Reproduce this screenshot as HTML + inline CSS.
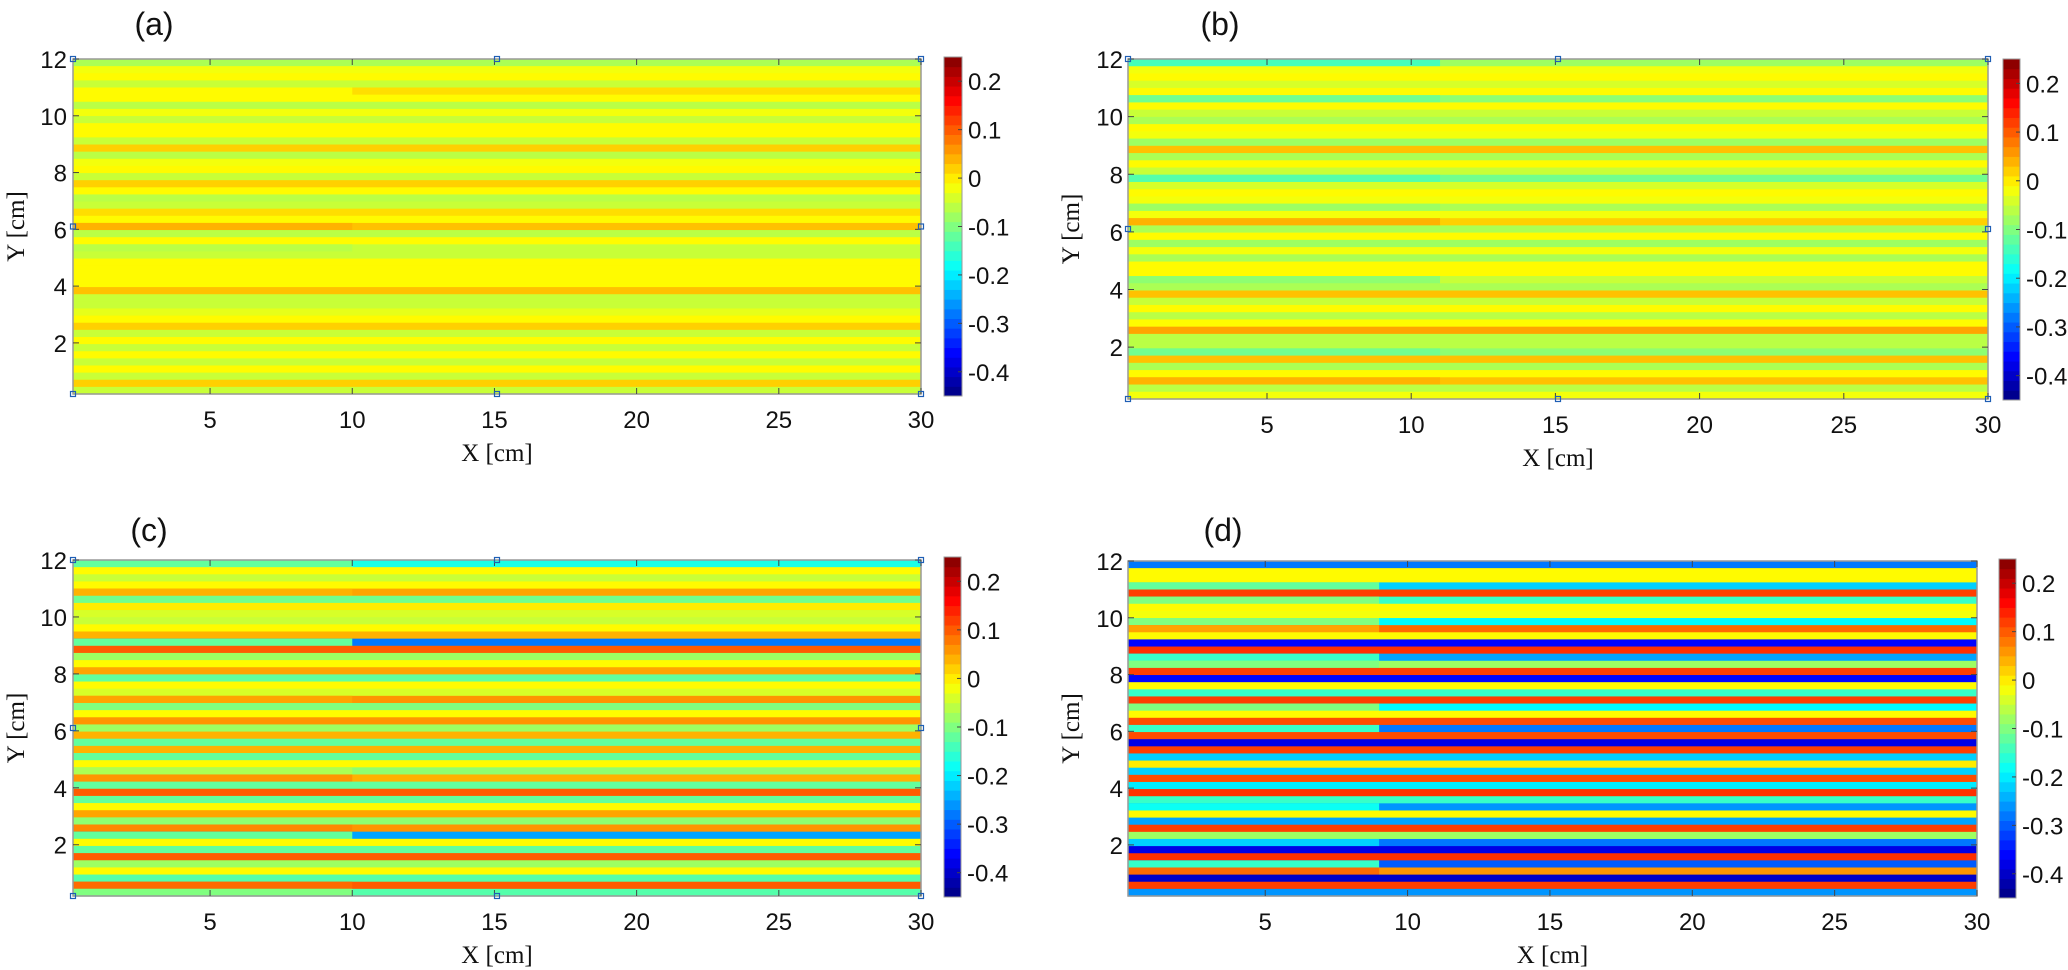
<!DOCTYPE html>
<html><head><meta charset="utf-8">
<style>
html,body{margin:0;padding:0;background:#fff;width:2068px;height:970px;overflow:hidden}
svg{display:block}
.tk{font-family:"Liberation Sans",sans-serif;font-size:24px;fill:#111}
.pl{font-family:"Liberation Sans",sans-serif;font-size:32px;fill:#111}
.al{font-family:"Liberation Serif",serif;font-size:25px;fill:#111}
</style></head>
<body>
<svg id="fig" width="2068" height="970" viewBox="0 0 2068 970" xmlns="http://www.w3.org/2000/svg"></svg>
<script>
// ---- data: stripe values per 0.25cm band, from y=12 (top) down to y=0.2 ----
const xTicks = [5, 10, 15, 20, 25, 30];
const yTicks = [2, 4, 6, 8, 10, 12];
const cbTicks = [0.2, 0.1, 0, -0.1, -0.2, -0.3, -0.4];
const cbTickLabels = ["0.2", "0.1", "0", "-0.1", "-0.2", "-0.3", "-0.4"];
const panelLetters = ["(a)", "(b)", "(c)", "(d)"];

const rowsA = [-0.07,-0.02,-0.01,-0.05,0.01,-0.01,-0.06,-0.02,-0.05,-0.01,-0.01,-0.05,0.02,-0.06,-0.02,-0.01,-0.05,0.02,-0.01,-0.06,-0.05,0.01,-0.01,0.03,-0.06,-0.01,-0.05,-0.05,-0.01,-0.01,-0.01,-0.01,0.03,-0.05,-0.05,-0.03,-0.01,0.02,-0.05,-0.01,-0.05,-0.01,-0.05,-0.01,-0.05,0.02,-0.05];
const rowsB = [-0.08,-0.02,-0.01,-0.04,-0.01,-0.09,-0.01,-0.05,-0.07,-0.01,-0.02,-0.08,0.03,-0.07,-0.01,-0.05,-0.11,-0.04,-0.01,-0.02,-0.07,-0.02,0.02,-0.07,-0.01,-0.08,-0.02,-0.07,-0.01,-0.01,-0.05,-0.07,0.03,-0.05,-0.01,-0.06,-0.01,0.05,-0.06,-0.06,-0.09,0.03,-0.07,-0.01,0.03,-0.06,-0.02];
const rowsC = [-0.17,-0.01,-0.05,-0.01,0.05,-0.11,0.0,-0.04,-0.05,-0.01,0.04,-0.28,0.1,-0.08,-0.01,0.05,-0.12,-0.01,-0.04,0.06,-0.1,-0.01,0.06,-0.08,0.04,-0.12,0.04,-0.12,-0.01,-0.09,0.04,-0.12,0.1,-0.12,-0.01,0.05,-0.09,0.06,-0.25,-0.01,-0.12,0.1,-0.08,-0.01,-0.13,0.1,-0.13];
const rowsD = [-0.28,-0.01,-0.01,-0.22,0.12,-0.15,-0.01,-0.02,-0.19,0.09,-0.01,-0.36,0.13,-0.25,-0.08,0.12,-0.36,-0.01,-0.15,0.12,-0.19,-0.01,0.11,-0.28,0.11,-0.38,0.12,-0.22,0.0,-0.22,0.11,-0.2,0.13,-0.15,-0.26,-0.01,-0.25,0.12,-0.08,-0.28,-0.38,0.13,-0.3,0.06,-0.4,0.12,-0.26];

// left-region deviations: [bandIndex, value] applying for x < split
const leftA = [[23,0.04],[4,-0.01],[26,-0.06]];
const leftB = [[0,-0.14],[5,-0.11],[16,-0.13],[20,-0.08],[22,0.04],[30,-0.09],[40,-0.11],[44,0.04]];
const leftC = [[0,-0.12],[4,0.04],[10,0.04],[11,-0.12],[19,0.05],[29,-0.07],[30,0.06],[37,0.07],[38,-0.12],[45,0.09],[46,-0.1]];
const leftD = [[3,-0.12],[5,-0.1],[8,-0.1],[9,0.05],[13,-0.15],[14,-0.1],[20,-0.1],[23,-0.15],[34,-0.18],[39,-0.22],[42,-0.15],[43,0.09]];
const splitX = [10, 11, 10, 9];

const allRows = [rowsA, rowsB, rowsC, rowsD];
const allLeft = [leftA, leftB, leftC, leftD];

// ---- layout (pixels) ----
const boxes = [
  {x0:73, x1:921, y0:59, y1:394, cb:{x0:944,x1:962,y0:57,y1:396}, lab:[154,24], ytx:67, ylx:16},
  {x0:1128, x1:1988, y0:59, y1:399, cb:{x0:2003,x1:2020,y0:59,y1:400}, lab:[1220,24], ytx:1123, ylx:1071},
  {x0:73, x1:921, y0:560, y1:896, cb:{x0:944,x1:961,y0:557,y1:897}, lab:[149,530], ytx:67, ylx:16},
  {x0:1128, x1:1977, y0:561, y1:896, cb:{x0:1999,x1:2016,y0:559,y1:898}, lab:[1223,530], ytx:1123, ylx:1071}
];
const XMIN = 0.18, XMAX = 30, YMIN = 0.2, YMAX = 12, VMIN = -0.45, VMAX = 0.25;

function jet(v){
  let t = (v - VMIN) / (VMAX - VMIN); t = Math.max(0, Math.min(1, t));
  const f = (a)=>Math.max(0, Math.min(1, a));
  const r = f(1.5 - Math.abs(4*t - 3)), g = f(1.5 - Math.abs(4*t - 2)), b = f(1.5 - Math.abs(4*t - 1));
  return `rgb(${Math.round(r*255)},${Math.round(g*255)},${Math.round(b*255)})`;
}
const NS = "http://www.w3.org/2000/svg";
const svg = document.getElementById('fig');
function mk(tag, attrs, parent){
  const e = document.createElementNS(NS, tag);
  for (const k in attrs) e.setAttribute(k, attrs[k]);
  (parent || svg).appendChild(e);
  return e;
}

boxes.forEach((B, p) => {
  const g = mk('g', {});
  
  
  const sx = (x) => B.x0 + (x - XMIN) / (XMAX - XMIN) * (B.x1 - B.x0);
  const sy = (y) => B.y1 - (y - YMIN) / (YMAX - YMIN) * (B.y1 - B.y0);
  const rows = allRows[p];
  const n = rows.length;
  const bandH = (YMAX - YMIN) / n;
  const leftMap = {};
  allLeft[p].forEach(([i, v]) => { leftMap[i] = v; });
  rows.forEach((v, i) => {
    const yTop = YMAX - i * bandH, yBot = YMAX - (i + 1) * bandH;
    const py0 = sy(yTop), py1 = sy(yBot);
    const r = mk('rect', {x: B.x0, y: py0, width: B.x1 - B.x0, height: py1 - py0 + 0.6, fill: jet(v)}, g);
    
    
    if (leftMap[i] !== undefined) {
      const xs = sx(splitX[p]);
      const r2 = mk('rect', {x: B.x0, y: py0, width: xs - B.x0, height: py1 - py0 + 0.6, fill: jet(leftMap[i])}, g);
      
      
    }
  });
  const fr = mk('rect', {x: B.x0, y: B.y0, width: B.x1 - B.x0, height: B.y1 - B.y0, fill: 'none', stroke: '#999', 'stroke-width': 1.5}, g);
  
  
  xTicks.forEach(t => {
    const x = sx(t);
    mk('line', {x1: x, x2: x, y1: B.y1, y2: B.y1 - 6, stroke: '#444', 'stroke-width': 1}, g);
    mk('line', {x1: x, x2: x, y1: B.y0, y2: B.y0 + 6, stroke: '#444', 'stroke-width': 1}, g);
    const tx = mk('text', {x: x, y: B.y1 + 34, 'text-anchor': 'middle', class: 'tk'}, g);
    tx.textContent = t;
    
    
  });
  yTicks.forEach(t => {
    const y = sy(t);
    mk('line', {x1: B.x0, x2: B.x0 + 6, y1: y, y2: y, stroke: '#444', 'stroke-width': 1}, g);
    mk('line', {x1: B.x1, x2: B.x1 - 6, y1: y, y2: y, stroke: '#444', 'stroke-width': 1}, g);
    const tx = mk('text', {x: B.ytx, y: y + 9, 'text-anchor': 'end', class: 'tk'}, g);
    tx.textContent = t;
    
    
  });
  if (p !== 3) {
    const mx = (B.x0 + B.x1) / 2, my = (B.y0 + B.y1) / 2;
    [[B.x0,B.y0],[mx,B.y0],[B.x1,B.y0],[B.x0,my],[B.x1,my],[B.x0,B.y1],[mx,B.y1],[B.x1,B.y1]].forEach(([x,y]) => {
      const m = mk('rect', {x: x - 2.5, y: y - 2.5, width: 5, height: 5, fill: 'none', stroke: '#1f5fb5', 'stroke-width': 1.2}, g);
      
      
    });
  }
  const xl = mk('text', {x: (B.x0 + B.x1) / 2, y: B.y1 + 67, 'text-anchor': 'middle', class: 'al'}, g);
  xl.textContent = 'X [cm]';
  
  
  const ym = (B.y0 + B.y1) / 2;
  const yl = mk('text', {x: B.ylx, y: ym, 'text-anchor': 'middle', class: 'al', transform: `rotate(-90 ${B.ylx} ${ym})`, dy: 8}, g);
  yl.textContent = 'Y [cm]';
  
  
  const pl = mk('text', {x: B.lab[0], y: B.lab[1] + 11, 'text-anchor': 'middle', class: 'pl'}, g);
  pl.textContent = panelLetters[p];
  
  
  const C = B.cb;
  const cg = mk('g', {}, g);
  
  
  const steps = 35;
  const cy = (v) => C.y1 - (v - VMIN) / (VMAX - VMIN) * (C.y1 - C.y0);
  for (let k = 0; k < steps; k++) {
    const v0 = VMIN + (VMAX - VMIN) * k / steps, v1 = VMIN + (VMAX - VMIN) * (k + 1) / steps;
    mk('rect', {x: C.x0, y: cy(v1), width: C.x1 - C.x0, height: cy(v0) - cy(v1) + 0.5, fill: jet((v0 + v1) / 2)}, cg);
  }
  mk('rect', {x: C.x0, y: C.y0, width: C.x1 - C.x0, height: C.y1 - C.y0, fill: 'none', stroke: '#999', 'stroke-width': 1}, cg);
  cbTicks.forEach((t, k) => {
    const y = cy(t);
    mk('line', {x1: C.x1, x2: C.x1 - 4, y1: y, y2: y, stroke: '#444', 'stroke-width': 1}, cg);
    const tx = mk('text', {x: C.x1 + 6, y: y + 9, 'text-anchor': 'start', class: 'tk'}, cg);
    tx.textContent = cbTickLabels[k];
    
    
  });
});
</script>
</body></html>
